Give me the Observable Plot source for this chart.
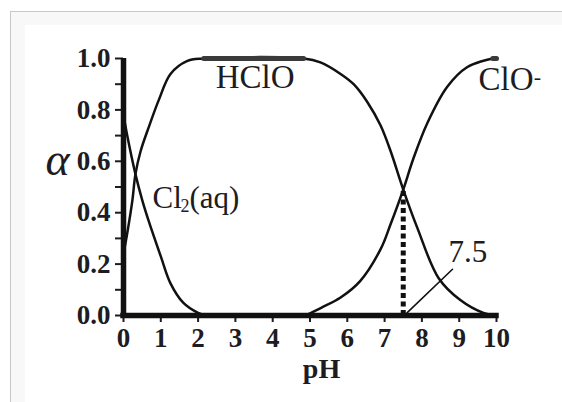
<!DOCTYPE html>
<html><head><meta charset="utf-8">
<script src="https://cdn.jsdelivr.net/npm/d3@7"></script>
<script src="https://cdn.jsdelivr.net/npm/@observablehq/plot@0.6"></script>
<style>
html,body{margin:0;padding:0;background:#fff;}
#wrap{position:relative;width:562px;height:402px;overflow:hidden;}
#panel{position:absolute;left:10px;top:11px;width:600px;height:450px;border-left:1px solid #c8c8c8;border-top:1px solid #c8c8c8;background:#f8f8f8;}
#inner{position:absolute;left:25px;top:25px;width:600px;height:450px;background:#fff;}
#chart{position:absolute;left:0;top:0;}
#chart svg text{font-family:"Times New Roman",Times,"Liberation Serif","Nimbus Roman","Nimbus Roman No9 L","Noto Serif","DejaVu Serif",FreeSerif,Tinos,serif;}
</style></head><body>
<div id="wrap"><div id="panel"></div><div id="inner"></div><div id="chart"></div></div>
<script>
// Tick values
const xTicks = [0, 1, 2, 3, 4, 5, 6, 7, 8, 9, 10];
const yTicks = [0, 0.2, 0.4, 0.6, 0.8, 1.0];
const yMinorTicks = [0, 0.1, 0.2, 0.3, 0.4, 0.5, 0.6, 0.7, 0.8, 0.9, 1.0];

// Cl2(aq) fraction
const cl2PH    = [0, 0.1, 0.32, 0.5, 0.67, 1.0, 1.26, 1.6, 2.0, 2.2];
const cl2Alpha = [0.78, 0.70, 0.55, 0.45, 0.37, 0.23, 0.125, 0.05, 0.01, 0];

// HClO fraction
const hcloPH    = [0, 0.1, 0.24, 0.32, 0.46, 0.67, 0.95, 1.26, 1.7, 2.15, 4.83, 5.28, 5.82, 6.17, 6.54, 6.89, 7.16, 7.5, 7.88, 8.45, 9.03, 9.65, 10];
const hcloAlpha = [0.24, 0.32, 0.45, 0.55, 0.64, 0.73, 0.84, 0.94, 0.99, 1.0, 1.0, 0.985, 0.94, 0.90, 0.83, 0.74, 0.64, 0.49, 0.34, 0.145, 0.06, 0.01, 0];

// ClO- fraction
const cloPH    = [4.88, 5.3, 5.82, 6.35, 6.9, 7.16, 7.5, 7.77, 8.15, 8.68, 9.2, 9.9, 10];
const cloAlpha = [0, 0.03, 0.07, 0.135, 0.26, 0.355, 0.49, 0.61, 0.75, 0.89, 0.965, 1.0, 1.0];

// pKa marker and its leader
const pKa = 7.5;
const pKaAlpha = 0.49;
const leaderPH = [7.6, 8.82];
const leaderAlpha = [0.01, 0.18];

// Texts
const speciesLabels = ["HClO", "ClO", "-", "Cl", "2", "(aq)"];
const pKaLabel = "7.5";
const xTitle = "pH";
const yTitle = "α";

const toRows = (xs, ys) => xs.map((x, i) => ({pH: x, a: ys[i]}));
const cl2 = toRows(cl2PH, cl2Alpha);
const hclo = toRows(hcloPH, hcloAlpha);
const clo = toRows(cloPH, cloAlpha);
const leader = toRows(leaderPH, leaderAlpha);

const serif = "'Times New Roman', Times, 'Liberation Serif', 'Nimbus Roman', 'Noto Serif', 'DejaVu Serif', FreeSerif, Tinos, serif";
const ink = "#1c1c22";

const chart = Plot.plot({
  width: 562, height: 402,
  marginLeft: 123, marginRight: 66, marginTop: 58, marginBottom: 87,
  x: {domain: [0, 10]},
  y: {domain: [0, 1]},
  style: {background: "transparent", color: ink, overflow: "visible", fontFamily: serif},
  marks: [
    Plot.axisY(yMinorTicks, {tickSize: 8, tickFormat: () => "", strokeWidth: 2, label: null}),
    Plot.axisY(yTicks, {tickSize: 0, tickPadding: 13, tickFormat: d3.format(".1f"), fontSize: 27, fontWeight: "bold", fontFamily: serif, label: null}),
    Plot.axisX(xTicks, {tickSize: 7, tickFormat: () => "", strokeWidth: 2, label: null}),
    Plot.axisX(xTicks, {tickSize: 0, tickPadding: 12, tickFormat: d3.format("d"), fontSize: 27, fontWeight: "bold", fontFamily: serif, label: null}),
    Plot.line(cl2, {x: "pH", y: "a", stroke: "#111", strokeWidth: 2.5, curve: "catmull-rom"}),
    Plot.line(hclo, {x: "pH", y: "a", stroke: "#111", strokeWidth: 2.5, curve: "catmull-rom"}),
    Plot.line(clo, {x: "pH", y: "a", stroke: "#111", strokeWidth: 2.5, curve: "catmull-rom"}),
    Plot.line(hclo.filter(d => d.a >= 1), {x: "pH", y: "a", stroke: "#3a3a3a", strokeWidth: 5}),
    Plot.line(clo.filter(d => d.a >= 1), {x: "pH", y: "a", stroke: "#3a3a3a", strokeWidth: 5}),
    Plot.ruleX([pKa], {y1: 0, y2: pKaAlpha, stroke: "#111", strokeWidth: 5, strokeDasharray: "5,3.5"}),
    Plot.line(leader, {x: "pH", y: "a", stroke: "#111", strokeWidth: 1.6}),
    Plot.ruleY([0], {x1: 0, x2: 10, stroke: "#111", strokeWidth: 5.5, strokeLinecap: "square"}),
    Plot.ruleX([0], {y1: 0, y2: 1, stroke: "#111", strokeWidth: 5.5}),
    Plot.text([speciesLabels[0]], {x: [2.47], y: [0.927], textAnchor: "start", fontSize: 33, fontFamily: serif, fill: ink}),
    Plot.text([speciesLabels[1]], {x: [9.52], y: [0.919], textAnchor: "start", fontSize: 33, fontFamily: serif, fill: ink}),
    Plot.text([speciesLabels[2]], {x: [11.0], y: [0.93], textAnchor: "start", fontSize: 22, fontFamily: serif, fill: ink}),
    Plot.text([speciesLabels[3]], {x: [0.78], y: [0.455], textAnchor: "start", fontSize: 31, fontFamily: serif, fill: ink}),
    Plot.text([speciesLabels[4]], {x: [1.53], y: [0.425], textAnchor: "start", fontSize: 18, fontFamily: serif, fill: ink}),
    Plot.text([speciesLabels[5]], {x: [1.77], y: [0.455], textAnchor: "start", fontSize: 31, fontFamily: serif, fill: ink}),
    Plot.text([pKaLabel], {x: [8.71], y: [0.247], textAnchor: "start", fontSize: 31, fontFamily: serif, fill: ink}),
    Plot.text([xTitle], {frameAnchor: "bottom", dx: 11.5, dy: 62, fontSize: 28, fontWeight: "bold", fontFamily: serif, fill: ink}),
    Plot.text([yTitle], {frameAnchor: "left", dx: -78, dy: -27, fontSize: 46, fontStyle: "italic", fontFamily: serif, fill: ink})
  ]
});
document.getElementById("chart").appendChild(chart);
</script>
</body></html>
